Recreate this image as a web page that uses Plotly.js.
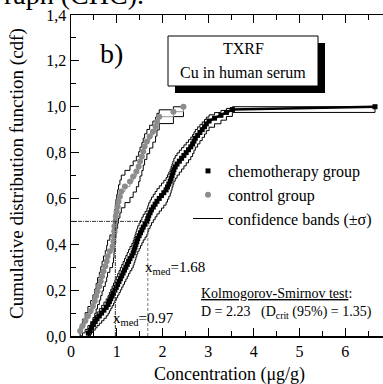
<!DOCTYPE html>
<html><head><meta charset="utf-8">
<script src="https://cdn.plot.ly/plotly-3.0.1.min.js"></script>
<style>html,body{margin:0;padding:0;overflow:hidden;background:#fff}#c{width:401px;height:384px}</style>
</head><body><div id="c"></div><script>
// Sorted concentrations (µg/g)
const controlGroup = [0.20,0.25,0.31,0.37,0.43,0.48,0.52,0.55,0.58,0.62,0.65,0.68,0.71,0.75,0.78,0.80,0.85,0.91,0.93,0.94,0.945,0.95,0.97,0.98,1.00,1.02,1.04,1.07,1.10,1.18,1.29,1.36,1.43,1.48,1.51,1.55,1.58,1.61,1.66,1.72,1.79,1.85,1.88,1.93,2.24,2.46];
const chemoGroup = [0.38,0.42,0.45,0.49,0.53,0.57,0.62,0.67,0.72,0.77,0.81,0.84,0.87,0.90,0.93,0.96,0.99,1.02,1.05,1.08,1.11,1.14,1.17,1.20,1.23,1.26,1.29,1.33,1.36,1.38,1.40,1.42,1.44,1.46,1.49,1.52,1.55,1.58,1.62,1.66,1.68,1.70,1.73,1.76,1.80,1.84,1.88,1.93,1.98,2.03,2.08,2.11,2.14,2.17,2.19,2.21,2.23,2.25,2.28,2.32,2.37,2.42,2.47,2.52,2.57,2.62,2.66,2.69,2.72,2.77,2.82,2.87,2.92,2.96,3.02,3.14,3.28,3.40,3.53,6.65];
const medians = [0.97, 1.68];
const medianLabels = ['x<sub>med</sub>=0.97', 'x<sub>med</sub>=1.68'];
const yTickVals = [0,0.2,0.4,0.6,0.8,1.0,1.2,1.4];
const xTickVals = [0,1,2,3,4,5,6,7];
const xTickText = ['0','1','2','3','4','5','6',' '];

const FONT = 'Liberation Serif';
function ecdf(v){ const n=v.length; return v.map((_,i)=>(i+1)/n); }
function band(v, sign){
  const n=v.length; const F=ecdf(v);
  const xs=[v[0]], ys=[0];
  F.forEach((f,i)=>{ xs.push(v[i]); ys.push(Math.min(1,Math.max(0,f+sign*Math.sqrt(f*(1-f)/n)))); });
  return {x:xs,y:ys};
}
const traces=[];
[controlGroup, chemoGroup].forEach((g,gi)=>{
  [1,-1].forEach((s,si)=>{
    const b=band(g,s);
    traces.push({x:b.x,y:b.y,mode:'lines',line:{shape:'hv',color:'#000',width:1},
      name:'confidence bands (±σ)', showlegend:(gi===1&&si===0), legendrank:3, hoverinfo:'skip'});
  });
});
traces.push({x:controlGroup,y:ecdf(controlGroup),mode:'lines',line:{shape:'hv',color:'#999',width:1},showlegend:false});
traces.push({x:controlGroup,y:ecdf(controlGroup),mode:'markers',name:'control group',legendrank:2,
  marker:{symbol:'circle',size:6,color:'#8c8c8c'}});
traces.push({x:chemoGroup,y:ecdf(chemoGroup),mode:'lines',line:{color:'#000',width:2.5},showlegend:false});
traces.push({x:chemoGroup,y:ecdf(chemoGroup),mode:'markers',name:'chemotherapy group',legendrank:1,
  marker:{symbol:'square',size:5,color:'#000'}});

const L=71,T=15,W=320,H=321;
const px=x=>(x-L)/W, py=y=>(T+H-y)/H;
function ann(text,x,y,size,xanchor,extra){
  return Object.assign({text:text,x:px(x),y:py(y),xref:'paper',yref:'paper',showarrow:false,
    xanchor:xanchor||'center',yanchor:'middle',font:{family:FONT,size:size,color:'#000'}},extra||{});
}
const annotations=[
  ann('raph (CHC).',2,-5,28,'left'),
  ann('b)',111,53,28),
  ann('TXRF',243,48,16),
  ann('Cu in human serum',243,72,16),
  ann(medianLabels[1],143,268,15,'left'),
  ann(medianLabels[0],111,319,15,'left'),
  ann('<u>Kolmogorov-Smirnov test</u>:',199,293,14,'left'),
  ann('D = 2.23   (D<sub>crit</sub> (95%) = 1.35)',199,312,14,'left'),
  ann('Concentration (μg/g)',229,374,18),
  ann('Cumulative distribution function (cdf)',17,174,19,'center',{textangle:-90})
];
const shapes=[
  {type:'rect',xref:'paper',yref:'paper',x0:px(175),x1:px(325),y0:py(93),y1:py(43),fillcolor:'#000',line:{width:0}},
  {type:'rect',xref:'paper',yref:'paper',x0:px(168),x1:px(318),y0:py(86),y1:py(36),fillcolor:'#fff',line:{color:'#000',width:1}},
  {type:'line',xref:'x',yref:'y',x0:0,x1:medians[1],y0:0.5,y1:0.5,line:{color:'#333',width:1,dash:'4px,1px,1px,1px'}},
  {type:'line',xref:'x',yref:'y',x0:medians[0],x1:medians[0],y0:0,y1:0.5,line:{color:'#333',width:1,dash:'4px,1px,1px,1px'}},
  {type:'line',xref:'x',yref:'y',x0:medians[1],x1:medians[1],y0:0,y1:0.5,line:{color:'#777',width:1,dash:'3px,2px'}}
];
const axisCommon={ticks:'inside',ticklen:8,tickwidth:1,tickcolor:'#000',showline:true,linewidth:1.5,linecolor:'#000',
  mirror:'allticks',showgrid:false,zeroline:false,tickfont:{family:FONT,size:16,color:'#000'}};
const layout={
  width:401,height:384,margin:{l:L,r:10,t:T,b:48},paper_bgcolor:'#fff',plot_bgcolor:'#fff',
  separators:',.',showlegend:true,
  font:{family:FONT,color:'#000'},
  xaxis:Object.assign({},axisCommon,{range:[0,7],tickvals:xTickVals,ticktext:xTickText,
    minor:{dtick:0.5,tick0:0,ticks:'inside',ticklen:5,tickcolor:'#000',showgrid:false}}),
  yaxis:Object.assign({},axisCommon,{range:[0,1.4],tickvals:yTickVals,tickformat:'.1f',
    minor:{dtick:0.1,tick0:0,ticks:'inside',ticklen:5,tickcolor:'#000',showgrid:false}}),
  legend:{x:px(188),y:py(154),xanchor:'left',yanchor:'top',bgcolor:'rgba(0,0,0,0)',
    font:{family:FONT,size:16,color:'#000'},tracegroupgap:0,itemwidth:30,traceorder:'normal'},
  annotations:annotations,shapes:shapes
};
Plotly.newPlot('c',traces,layout,{staticPlot:true,displayModeBar:false});
</script></body></html>
